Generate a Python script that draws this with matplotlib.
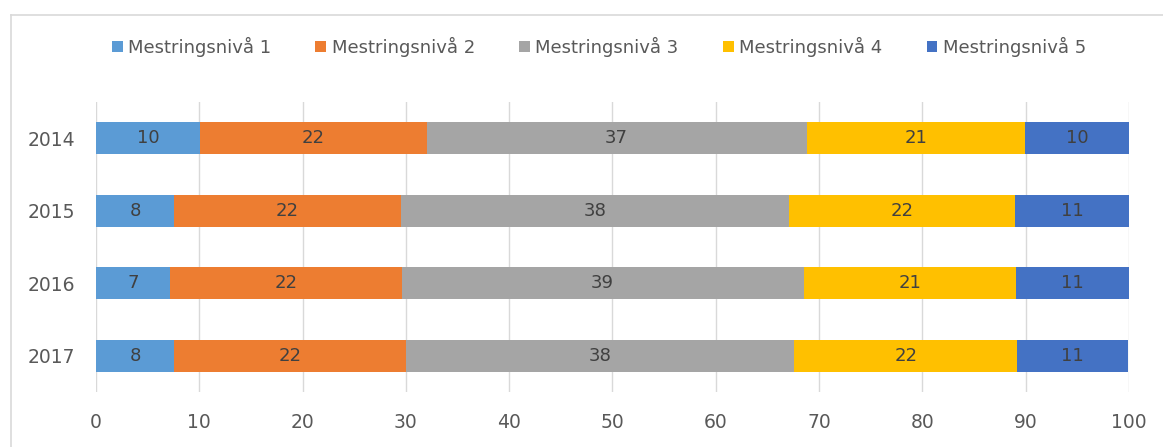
import matplotlib.pyplot as plt
from matplotlib.lines import Line2D

plt.rcParams['font.family'] = ['Liberation Sans Narrow', 'DejaVu Sans']

years = ["2014", "2015", "2016", "2017"]
levels = ["Mestringsnivå 1", "Mestringsnivå 2", "Mestringsnivå 3",
          "Mestringsnivå 4", "Mestringsnivå 5"]
niva1 = [10.1, 7.6, 7.15, 7.6]
niva2 = [21.9, 21.9, 22.45, 22.4]
niva3 = [36.8, 37.6, 38.9, 37.6]
niva4 = [21.1, 21.9, 20.6, 21.6]
niva5 = [10.1, 11.0, 10.9, 10.7]
colors = ["#5B9BD5", "#ED7D31", "#A5A5A5", "#FFC000", "#4472C4"]

fig = plt.figure(figsize=(11.63, 4.47), dpi=100)
ax = fig.add_axes([0.0825, 0.123, 0.8883, 0.649])

# outer chart border (top and left visible)
fig.add_artist(Line2D([11/1163, 1.0], [1-15/447, 1-15/447], color="#d9d9d9", lw=1.2))
fig.add_artist(Line2D([11/1163, 11/1163], [0, 1-15/447], color="#d9d9d9", lw=1.2))

pos = list(range(len(years)))[::-1]
left = [0] * len(years)
for vals, lab, col in zip([niva1, niva2, niva3, niva4, niva5], levels, colors):
    bars = ax.barh(pos, vals, left=left, height=0.44, color=col, label=lab, zorder=3)
    ax.bar_label(bars, labels=[f"{v:.0f}" for v in vals], label_type="center",
                 color="#404040", fontsize=13)
    left = [a + b for a, b in zip(left, vals)]

ax.set_xlim(0, 100)
ax.set_ylim(-0.5, 3.5)
ax.set_xticks(range(0, 101, 10))
ax.set_yticks(pos)
ax.set_yticklabels(years)
ax.grid(axis="x", color="#d9d9d9", lw=1, zorder=0)
for s in ax.spines.values():
    s.set_visible(False)
ax.tick_params(length=0, labelsize=13.5, labelcolor="#595959")
ax.tick_params(axis="x", pad=15)
ax.tick_params(axis="y", pad=15)

fig.legend(loc="center", bbox_to_anchor=(0.515, 1 - 47/447), ncol=5, frameon=False,
           fontsize=13, labelcolor="#595959", handlelength=0.6, handleheight=0.6,
           handletextpad=0.3, columnspacing=2.45)

fig.savefig("out.png", dpi=100)
